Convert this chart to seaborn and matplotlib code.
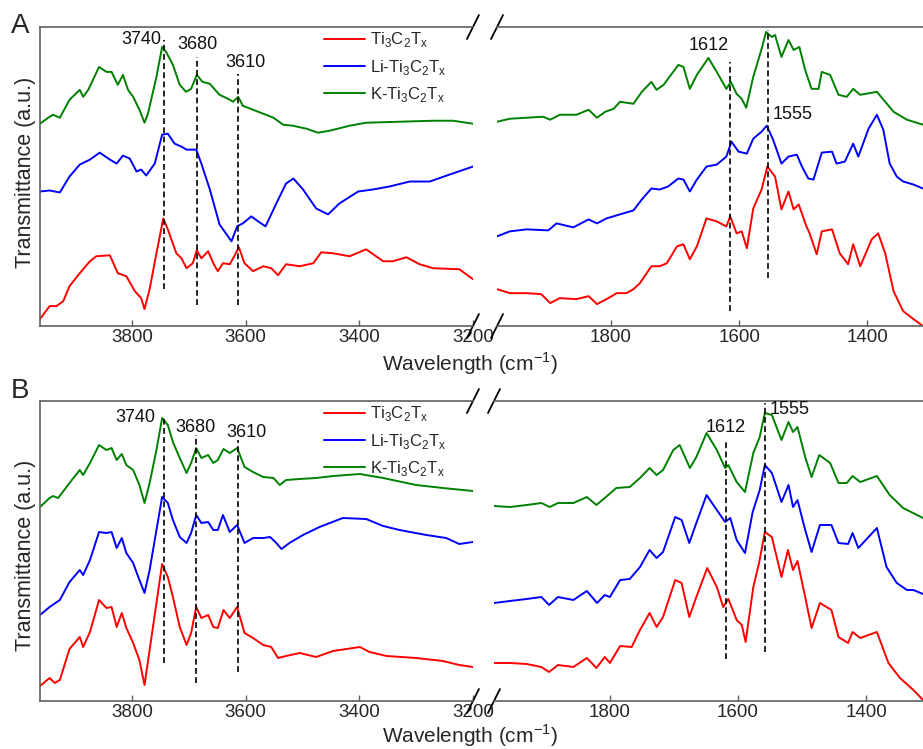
import matplotlib
matplotlib.use('Agg')
import matplotlib.pyplot as plt
import seaborn as sns
from matplotlib.lines import Line2D

# FTIR spectra (wavenumber in cm-1, transmittance in a.u.)
# Panel A, high wavenumber region
a_hi_wn_k = [3962, 3945, 3939, 3927, 3910, 3892, 3886, 3877, 3858, 3845, 3836, 3825, 3816, 3807,
             3798, 3787, 3778, 3772, 3757, 3747, 3740, 3728, 3716, 3705, 3696, 3686, 3676, 3663,
             3646, 3631, 3622, 3613, 3605, 3587, 3569, 3551, 3534, 3517, 3493, 3473, 3452, 3417,
             3388, 3329, 3270, 3235, 3200]
a_hi_k = [203, 210, 212, 209, 227, 237, 230, 237, 260, 255, 255, 242, 252, 237,
          230, 217, 204, 213, 250, 280, 275, 262, 242, 235, 238, 252, 245, 243,
          232, 228, 225, 230, 221, 217, 213, 209, 202, 201, 198, 194, 196, 201,
          204, 205, 206, 206, 203]
a_hi_wn_li = [3962, 3945, 3927, 3910, 3892, 3874, 3857, 3839, 3827, 3816, 3804, 3792, 3784, 3775,
              3760, 3747, 3737, 3725, 3713, 3704, 3687, 3678, 3663, 3646, 3625, 3615, 3605, 3590,
              3578, 3565, 3546, 3529, 3516, 3499, 3476, 3455, 3435, 3402, 3376, 3347, 3311, 3276,
              3241, 3200]
a_hi_li = [135, 136, 134, 150, 162, 167, 174, 167, 163, 171, 168, 155, 157, 151,
           163, 192, 193, 183, 180, 177, 177, 163, 137, 102, 85, 100, 103, 110,
           105, 100, 123, 143, 148, 137, 118, 112, 123, 135, 137, 140, 145, 145,
           152, 160]
a_hi_wn_ti = [3962, 3945, 3933, 3921, 3910, 3892, 3874, 3863, 3839, 3825, 3810, 3795, 3784, 3778,
              3769, 3757, 3745, 3737, 3722, 3713, 3704, 3693, 3686, 3678, 3666, 3657, 3649, 3640,
              3628, 3622, 3612, 3602, 3587, 3569, 3555, 3543, 3529, 3505, 3481, 3467, 3446, 3417,
              3388, 3358, 3341, 3317, 3294, 3270, 3224, 3200]
a_hi_ti = [7, 20, 20, 25, 40, 53, 65, 70, 71, 53, 50, 35, 28, 17,
           37, 73, 108, 97, 73, 68, 58, 63, 76, 68, 75, 63, 55, 63,
           62, 68, 79, 63, 55, 60, 58, 51, 62, 60, 63, 74, 73, 70,
           77, 65, 65, 69, 62, 58, 57, 47]

# Panel A, low wavenumber region
a_lo_wn_k = [1978, 1958, 1932, 1906, 1895, 1880, 1854, 1835, 1822, 1809, 1796, 1786, 1765, 1752,
             1737, 1729, 1718, 1703, 1695, 1687, 1677, 1666, 1648, 1635, 1620, 1613, 1604, 1596,
             1589, 1578, 1565, 1558, 1549, 1544, 1534, 1523, 1515, 1506, 1497, 1487, 1476, 1471,
             1458, 1445, 1432, 1422, 1411, 1385, 1359, 1338, 1313]
a_lo_k = [205, 208, 209, 210, 207, 212, 212, 217, 209, 215, 218, 225, 223, 235,
          245, 237, 242, 255, 262, 260, 238, 252, 269, 255, 238, 245, 233, 228,
          219, 250, 278, 295, 290, 292, 270, 287, 277, 280, 257, 238, 238, 255,
          252, 232, 230, 238, 232, 235, 215, 207, 202]
a_lo_wn_li = [1978, 1958, 1932, 1898, 1885, 1859, 1835, 1822, 1807, 1781, 1765, 1752, 1737, 1724,
              1711, 1695, 1687, 1677, 1666, 1651, 1635, 1620, 1612, 1601, 1588, 1578, 1565, 1557,
              1547, 1534, 1523, 1510, 1502, 1492, 1484, 1471, 1455, 1448, 1435, 1422, 1414, 1398,
              1385, 1375, 1365, 1354, 1344, 1328, 1313]
a_lo_li = [90, 95, 97, 96, 103, 99, 107, 103, 108, 113, 116, 127, 138, 137,
           140, 148, 147, 135, 147, 160, 162, 170, 185, 175, 173, 188, 195, 201,
           187, 163, 170, 172, 160, 148, 147, 174, 175, 163, 165, 183, 170, 198,
           212, 197, 163, 150, 145, 142, 138]
a_lo_wn_ti = [1978, 1958, 1932, 1909, 1895, 1880, 1854, 1835, 1822, 1807, 1791, 1776, 1765, 1755,
              1737, 1724, 1713, 1697, 1687, 1677, 1666, 1651, 1635, 1620, 1614, 1604, 1596, 1588,
              1578, 1565, 1556, 1544, 1534, 1523, 1515, 1507, 1495, 1490, 1479, 1471, 1455, 1443,
              1430, 1422, 1411, 1393, 1383, 1372, 1359, 1344, 1328, 1313]
a_lo_ti = [37, 33, 33, 32, 23, 28, 27, 30, 22, 27, 33, 33, 37, 43,
           60, 60, 63, 80, 82, 67, 80, 108, 105, 100, 110, 93, 95, 78,
           118, 137, 160, 150, 117, 135, 117, 122, 100, 93, 72, 95, 97, 73,
           62, 82, 60, 87, 93, 73, 35, 15, 7, 0]

# Panel B, high wavenumber region
b_hi_wn_k = [3962, 3945, 3939, 3930, 3910, 3892, 3886, 3874, 3858, 3845, 3836, 3827, 3818, 3810,
             3798, 3787, 3778, 3769, 3757, 3747, 3737, 3728, 3716, 3704, 3696, 3687, 3678, 3666,
             3657, 3649, 3639, 3628, 3615, 3602, 3587, 3569, 3551, 3540, 3529, 3505, 3476, 3446,
             3399, 3358, 3300, 3253, 3200]
b_hi_k = [194, 203, 205, 203, 218, 231, 226, 238, 256, 251, 253, 241, 247, 236,
          231, 216, 198, 218, 251, 283, 276, 259, 243, 228, 238, 253, 243, 246,
          238, 241, 252, 248, 253, 234, 229, 224, 223, 216, 221, 222, 223, 225,
          227, 223, 216, 213, 210]
b_hi_wn_li = [3962, 3945, 3927, 3910, 3892, 3886, 3874, 3858, 3845, 3836, 3827, 3818, 3810, 3798,
              3789, 3778, 3769, 3757, 3747, 3737, 3728, 3716, 3704, 3696, 3687, 3678, 3666, 3657,
              3649, 3640, 3628, 3615, 3602, 3587, 3569, 3557, 3546, 3537, 3523, 3499, 3470, 3429,
              3388, 3358, 3329, 3282, 3247, 3224, 3200]
b_hi_li = [86, 94, 101, 119, 131, 126, 141, 169, 168, 169, 153, 163, 148, 138,
           124, 108, 131, 171, 204, 198, 181, 164, 158, 168, 186, 178, 179, 171,
           171, 186, 169, 176, 158, 163, 163, 164, 158, 152, 158, 166, 174, 183,
           182, 175, 171, 166, 163, 157, 159]
b_hi_wn_ti = [3962, 3945, 3936, 3927, 3910, 3892, 3886, 3874, 3858, 3845, 3836, 3827, 3818, 3810,
              3798, 3787, 3778, 3769, 3757, 3747, 3737, 3728, 3716, 3704, 3696, 3687, 3678, 3666,
              3657, 3649, 3639, 3628, 3615, 3602, 3587, 3569, 3555, 3543, 3529, 3505, 3476, 3446,
              3399, 3382, 3352, 3300, 3253, 3224, 3200]
b_hi_ti = [15, 23, 18, 21, 52, 64, 54, 69, 101, 93, 94, 74, 88, 73,
           58, 41, 16, 51, 98, 137, 124, 104, 74, 56, 68, 94, 83, 86,
           74, 73, 91, 83, 94, 68, 63, 56, 54, 43, 45, 48, 44, 50,
           54, 49, 45, 43, 40, 36, 34]

# Panel B, low wavenumber region
b_lo_wn_k = [1981, 1956, 1930, 1907, 1894, 1881, 1857, 1836, 1821, 1808, 1790, 1769, 1753, 1738,
             1727, 1717, 1701, 1691, 1675, 1665, 1649, 1633, 1620, 1615, 1602, 1589, 1576, 1566,
             1558, 1547, 1532, 1521, 1514, 1507, 1495, 1485, 1473, 1456, 1443, 1430, 1421, 1409,
             1383, 1363, 1342, 1311]
b_lo_k = [195, 194, 196, 198, 194, 198, 198, 204, 196, 203, 213, 214, 223, 233,
          226, 231, 251, 256, 233, 244, 268, 251, 233, 236, 219, 209, 248, 264,
          288, 286, 261, 279, 269, 274, 244, 224, 246, 238, 218, 218, 225, 219,
          225, 206, 193, 183]
b_lo_wn_li = [1981, 1956, 1930, 1907, 1895, 1881, 1857, 1836, 1820, 1808, 1800, 1784, 1769, 1753,
              1738, 1727, 1717, 1698, 1688, 1676, 1665, 1649, 1633, 1620, 1612, 1602, 1589, 1577,
              1566, 1558, 1547, 1532, 1521, 1514, 1507, 1495, 1485, 1472, 1454, 1443, 1428, 1421,
              1412, 1383, 1368, 1352, 1336, 1326, 1311]
b_lo_li = [98, 100, 102, 104, 96, 104, 101, 110, 98, 106, 104, 121, 122, 134,
           151, 143, 149, 184, 181, 158, 178, 206, 191, 179, 183, 161, 148, 189,
           211, 236, 228, 199, 216, 194, 201, 171, 149, 176, 176, 158, 157, 168,
           153, 173, 134, 118, 111, 111, 107]
b_lo_wn_ti = [1981, 1956, 1930, 1907, 1895, 1881, 1857, 1836, 1821, 1808, 1800, 1784, 1766, 1753,
              1738, 1727, 1717, 1698, 1688, 1676, 1665, 1648, 1633, 1623, 1615, 1602, 1594, 1588,
              1576, 1567, 1558, 1547, 1532, 1522, 1514, 1507, 1495, 1485, 1472, 1454, 1443, 1428,
              1421, 1409, 1383, 1365, 1347, 1326, 1311]
b_lo_ti = [38, 38, 37, 34, 29, 36, 34, 43, 33, 44, 38, 55, 54, 71,
           88, 74, 84, 121, 118, 84, 104, 133, 114, 94, 102, 81, 76, 59,
           114, 138, 169, 164, 124, 151, 131, 140, 104, 73, 98, 91, 64, 58,
           69, 63, 69, 38, 23, 11, 1]

series_names = ['Ti$_\\mathregular{3}$C$_\\mathregular{2}$T$_\\mathregular{x}$',
                'Li-Ti$_\\mathregular{3}$C$_\\mathregular{2}$T$_\\mathregular{x}$',
                'K-Ti$_\\mathregular{3}$C$_\\mathregular{2}$T$_\\mathregular{x}$']
series_colors = ['#ff0000', '#0000ff', '#008000']

# marked bands: drawn position, label, line extent
a_hi_marks = [(3744, '3740', 37, 287), (3686, '3680', 21, 270), (3613, '3610', 21, 253)]
a_lo_marks = [(1615, '1612', 15, 265), (1555, '1555', 48, 297)]
b_hi_marks = [(3744, '3740', 38, 284), (3687, '3680', 18, 266), (3613, '3610', 29, 261)]
b_lo_marks = [(1619, '1612', 42, 261), (1558, '1555', 49, 298)]
# label anchor for each mark (wavenumber, height)
a_hi_labels = [(3784, 287), (3684, 282), (3600, 264)]
a_lo_labels = [(1648, 281), (1517, 212)]
b_hi_labels = [(3794, 284), (3688, 274), (3598, 269)]
b_lo_labels = [(1619, 274), (1519, 292)]

sns.set_style('white')
plt.rcParams['font.family'] = ['Liberation Sans', 'DejaVu Sans']
plt.rcParams['mathtext.fontset'] = 'custom'
plt.rcParams['mathtext.rm'] = 'Liberation Sans'

fig = plt.figure(figsize=(9.23, 7.49), dpi=100)

spine_col = '#606060'


def style_axes(ax, side, ticks, xlim):
    ax.set_xlim(*xlim)
    ax.set_ylim(0, 300)
    ax.set_yticks([])
    ax.set_xticks(ticks)
    ax.set_xticklabels([str(t) for t in ticks])
    ax.set_xlabel('')
    ax.set_ylabel('')
    ax.tick_params(axis='x', direction='in', length=4, width=1, color=spine_col,
                   labelsize=13.5, pad=2, bottom=True)
    ax.spines['right'].set_visible(False)
    if side == 'right':
        ax.spines['left'].set_visible(False)
    for s in ['left', 'top', 'bottom']:
        ax.spines[s].set_color(spine_col)
        ax.spines[s].set_linewidth(1.2)
    # break marks
    dx = 6 / (ax.get_position().width * 923)
    dy = 12 / (ax.get_position().height * 749)
    x0 = 1.0 if side == 'left' else 0.0
    kw = dict(transform=ax.transAxes, color='k', clip_on=False, lw=1.3)
    ax.plot([x0 - dx, x0 + dx], [1 - dy, 1 + dy], **kw)
    ax.plot([x0 - dx, x0 + dx], [-dy, dy], **kw)


def draw_panel(ax, curves, marks, labels):
    for (wn, vals), col in zip(curves, series_colors):
        sns.lineplot(x=wn, y=vals, ax=ax, color=col, lw=1.4, estimator=None)
    for (pos, txt, y0, y1), (lx, ly) in zip(marks, labels):
        ax.vlines(pos, y0, y1, colors='k', linestyles=(0, (3.5, 2)), lw=1.2)
        ax.text(lx, ly, txt, ha='center', va='center', fontsize=13, color='#111111')


panels = [
    (0.5647, 0.3992, 'A',
     [(a_hi_wn_ti, a_hi_ti), (a_hi_wn_li, a_hi_li), (a_hi_wn_k, a_hi_k)],
     [(a_lo_wn_ti, a_lo_ti), (a_lo_wn_li, a_lo_li), (a_lo_wn_k, a_lo_k)],
     a_hi_marks, a_hi_labels, a_lo_marks, a_lo_labels, (1978, 1313), 0.5385,
     (0.515, 'center'), 0.770, 0.965),
    (0.0641, 0.4005, 'B',
     [(b_hi_wn_ti, b_hi_ti), (b_hi_wn_li, b_hi_li), (b_hi_wn_k, b_hi_k)],
     [(b_lo_wn_ti, b_lo_ti), (b_lo_wn_li, b_lo_li), (b_lo_wn_k, b_lo_k)],
     b_hi_marks, b_hi_labels, b_lo_marks, b_lo_labels, (1981, 1311), 0.5352,
     (0.0, 'bottom'), 0.258, 0.478),
]

for (bot, hgt, letter, hi_curves, lo_curves, hi_m, hi_l, lo_m, lo_l,
     lo_xlim, lo_left, xl_pos, yl_y, let_y) in panels:
    ax1 = fig.add_axes([0.0433, bot, 0.4691, hgt])
    ax2 = fig.add_axes([lo_left, bot, 1 - lo_left, hgt])
    draw_panel(ax1, hi_curves, hi_m, hi_l)
    draw_panel(ax2, lo_curves, lo_m, lo_l)
    style_axes(ax1, 'left', [3800, 3600, 3400, 3200], (3962, 3200))
    style_axes(ax2, 'right', [1800, 1600, 1400], lo_xlim)

    handles = [Line2D([], [], color=c, lw=1.4) for c in series_colors]
    ax1.legend(handles, series_names, loc='upper left', bbox_to_anchor=(0.632, 1.022),
               frameon=False, fontsize=12, handlelength=2.5, handletextpad=0.3,
               labelspacing=0.5, borderaxespad=0.2)

    fig.text(0.509, xl_pos[0], 'Wavelength (cm$^\\mathregular{-1}$)', ha='center',
             va=xl_pos[1], fontsize=15)
    fig.text(0.028, yl_y, 'Transmittance (a.u.)', rotation=90, ha='center', va='center',
             fontsize=15.5)
    fig.text(0.022, let_y, letter, ha='center', va='center', fontsize=20)

fig.savefig('out.png', dpi=100)
